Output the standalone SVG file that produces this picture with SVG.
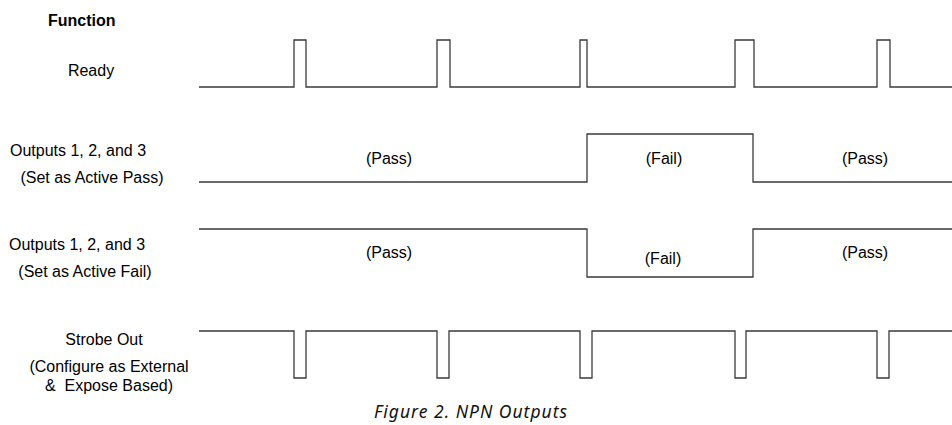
<svg xmlns="http://www.w3.org/2000/svg" width="952" height="425" viewBox="0 0 952 425">
<style>
.lbl{font-family:"Liberation Sans",Arial,sans-serif;font-size:16px;fill:#000;text-anchor:middle;white-space:pre}
.hdr{font-family:"Liberation Sans",Arial,sans-serif;font-size:16px;font-weight:bold;fill:#000}
.wave{fill:none;stroke:#3a3a3a;stroke-width:1.3;stroke-linejoin:miter}
.cap{font-family:"Noto Sans","Liberation Sans",sans-serif;font-size:17.5px;font-style:italic;fill:#111}
</style>
<rect width="952" height="425" fill="#fff"/>
<g id="header"><text class="hdr" x="48" y="26">Function</text></g>
<g id="ready">
<text class="lbl" x="91" y="76">Ready</text>
</g>
<g id="active-pass">
<text class="lbl" x="78" y="156">Outputs 1, 2, and 3</text>
<text class="lbl" x="92" y="183">(Set as Active Pass)</text>
<text class="lbl" x="389" y="164">(Pass)</text>
<text class="lbl" x="664" y="164">(Fail)</text>
<text class="lbl" x="865" y="164">(Pass)</text>
</g>
<g id="active-fail">
<text class="lbl" x="77" y="250">Outputs 1, 2, and 3</text>
<text class="lbl" x="85" y="277">(Set as Active Fail)</text>
<text class="lbl" x="389" y="258">(Pass)</text>
<text class="lbl" x="663" y="264">(Fail)</text>
<text class="lbl" x="865" y="258">(Pass)</text>
</g>
<g id="strobe">
<text class="lbl" x="104" y="345">Strobe Out</text>
<text class="lbl" x="109" y="372">(Configure as External</text>
<text class="lbl" x="109" y="391">&amp;  Expose Based)</text>
</g>
<g id="waveforms">
<path class="wave" d="M199,87 H294 V40 H306 V87 H437 V40 H450 V87 H580 V40 H587 V87 H735 V40 H754 V87 H877 V40 H890 V87 H952"/>
<path class="wave" d="M199,182 H587 V134 H753 V182 H952"/>
<path class="wave" d="M199,229 H587 V277 H753 V229 H952"/>
<path class="wave" d="M199,331 H294 V378 H306 V331 H437 V378 H449 V331 H580 V378 H592 V331 H735 V378 H746 V331 H877 V378 H889 V331 H952"/>
</g>
<g id="caption"><text class="cap" x="374" y="418" textLength="193" lengthAdjust="spacing">Figure 2. NPN Outputs</text></g>
</svg>
